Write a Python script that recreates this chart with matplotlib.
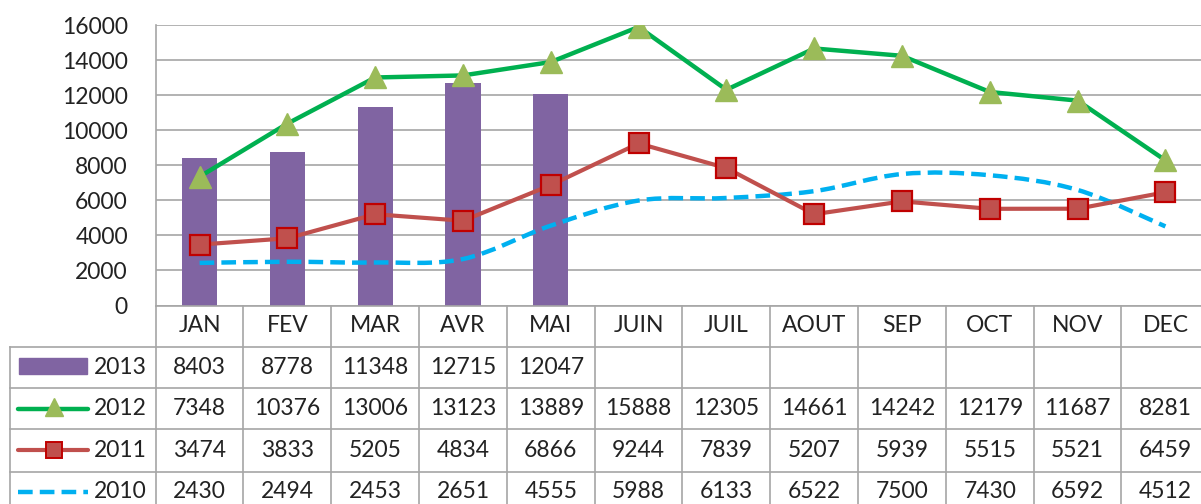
import matplotlib.pyplot as plt
import numpy as np
from matplotlib.path import Path
from matplotlib.patches import PathPatch, Rectangle

months = ['JAN', 'FEV', 'MAR', 'AVR', 'MAI', 'JUIN', 'JUIL', 'AOUT', 'SEP', 'OCT', 'NOV', 'DEC']
v2013 = [8403, 8778, 11348, 12715, 12047]
v2012 = [7348, 10376, 13006, 13123, 13889, 15888, 12305, 14661, 14242, 12179, 11687, 8281]
v2011 = [3474, 3833, 5205, 4834, 6866, 9244, 7839, 5207, 5939, 5515, 5521, 6459]
v2010 = [2430, 2494, 2453, 2651, 4555, 5988, 6133, 6522, 7500, 7430, 6592, 4512]
yticks = list(range(0, 16001, 2000))

PURPLE = '#8064A2'
GREEN = '#00B050'
TRI = '#9BBB59'
RED = '#C0504D'
REDEDGE = '#C00000'
BLUE = '#00B0F0'
GRID = '#A6A6A6'
TXT = '#222222'

plt.rcParams['font.family'] = ['Lato', 'DejaVu Sans']
FS = 16.5

W, H = 1201, 504
x0, cw = 155.7, 87.8          # left edge of plot area, width of one month column (px)
ytop, ybot = 25, 305.5
n = len(months)
x = np.arange(n)

fig = plt.figure(figsize=(W / 100, H / 100), dpi=100)

# ---- chart area
ax = fig.add_axes([x0 / W, 1 - ybot / H, n * cw / W, (ybot - ytop) / H])
ax.set_xlim(-0.5, n - 0.5)
ax.set_ylim(0, 16000)
for s in ['top', 'right', 'bottom']:
    ax.spines[s].set_visible(False)
ax.spines['left'].set_color(GRID)
ax.spines['left'].set_linewidth(1.2)
ax.set_xticks([])
ax.set_yticks(yticks)
ax.set_yticklabels([str(t) for t in yticks], fontsize=FS, color=TXT)
ax.tick_params(axis='y', length=0, pad=20)
ax.yaxis.grid(True, color=GRID, linewidth=1.2)
ax.set_axisbelow(True)

ax.bar(x[:len(v2013)], v2013, width=0.4, color=PURPLE, zorder=2)

# 2010 smoothed line (Bezier through the data points)
pts = np.column_stack([x, v2010]).astype(float)
ext = np.vstack([pts[0], pts, pts[-1]])
verts = [pts[0]]
codes = [Path.MOVETO]
for i in range(n - 1):
    p0, p1, p2, p3 = ext[i], ext[i + 1], ext[i + 2], ext[i + 3]
    verts += [p1 + (p2 - p0) / 6, p2 - (p3 - p1) / 6, p2]
    codes += [Path.CURVE4] * 3
ax.add_patch(PathPatch(Path(verts, codes), fill=False, edgecolor=BLUE, linewidth=3.2,
                       linestyle=(0, (3.3, 1.6)), zorder=3))

ax.plot(x, v2011, color=RED, linewidth=3, marker='s', markersize=14,
        markerfacecolor=RED, markeredgecolor=REDEDGE, markeredgewidth=1.6, zorder=4)
ax.plot(x, v2012, color=GREEN, linewidth=3.2, marker='^', markersize=16,
        markerfacecolor=TRI, markeredgecolor=TRI, zorder=5)

# ---- data table
tx = fig.add_axes([x0 / W, 0, n * cw / W, 1 - ybot / H])
tx.set_xlim(-0.5, n - 0.5)
tx.set_ylim(H, ybot)
tx.axis('off')


def px2x(px):
    return -0.5 + (px - x0) / cw


left = px2x(9.5)
right = n - 0.5
row_lines = [346.7, 387.7, 429.3, 471.7]
lk = dict(color=GRID, linewidth=1.2, clip_on=False)

tx.plot([-0.5, right], [ybot, ybot], **lk)
for yl in row_lines:
    tx.plot([left, right], [yl, yl], **lk)
tx.plot([left, left], [row_lines[0], H], **lk)
for i in range(n + 1):
    tx.plot([i - 0.5, i - 0.5], [ybot, H], **lk)

for i, m in enumerate(months):
    tx.text(i, 326, m, ha='center', va='center', fontsize=FS, color=TXT)

rows = [('2013', v2013), ('2012', v2012), ('2011', v2011), ('2010', v2010)]
centers = [367.2, 408.5, 450.5, 491.5]
for (name, vals), yc in zip(rows, centers):
    tx.text(px2x(94), yc, name, ha='left', va='center', fontsize=FS, color=TXT, clip_on=False)
    for i, v in enumerate(vals):
        tx.text(i, yc, str(v), ha='center', va='center', fontsize=FS, color=TXT)

# legend keys
k1, k2, kc = px2x(18), px2x(88), px2x(54)
tx.add_patch(Rectangle((px2x(19), 358), px2x(87) - px2x(19), 16, color=PURPLE, clip_on=False))
tx.plot([k1, k2], [408.5, 408.5], color=GREEN, linewidth=3.2, solid_capstyle='round', clip_on=False)
tx.plot([kc], [406.5], marker='^', markersize=12.5, color=TRI, clip_on=False)
tx.plot([k1, k2], [449.5, 449.5], color=RED, linewidth=3, solid_capstyle='round', clip_on=False)
tx.plot([kc], [449.5], marker='s', markersize=11, markerfacecolor=RED,
        markeredgecolor=REDEDGE, markeredgewidth=1.4, clip_on=False)
tx.plot([k1, k2], [492, 492], color=BLUE, linewidth=3.2, linestyle=(0, (3.3, 1.6)), clip_on=False)

fig.savefig('out.png', dpi=100)
